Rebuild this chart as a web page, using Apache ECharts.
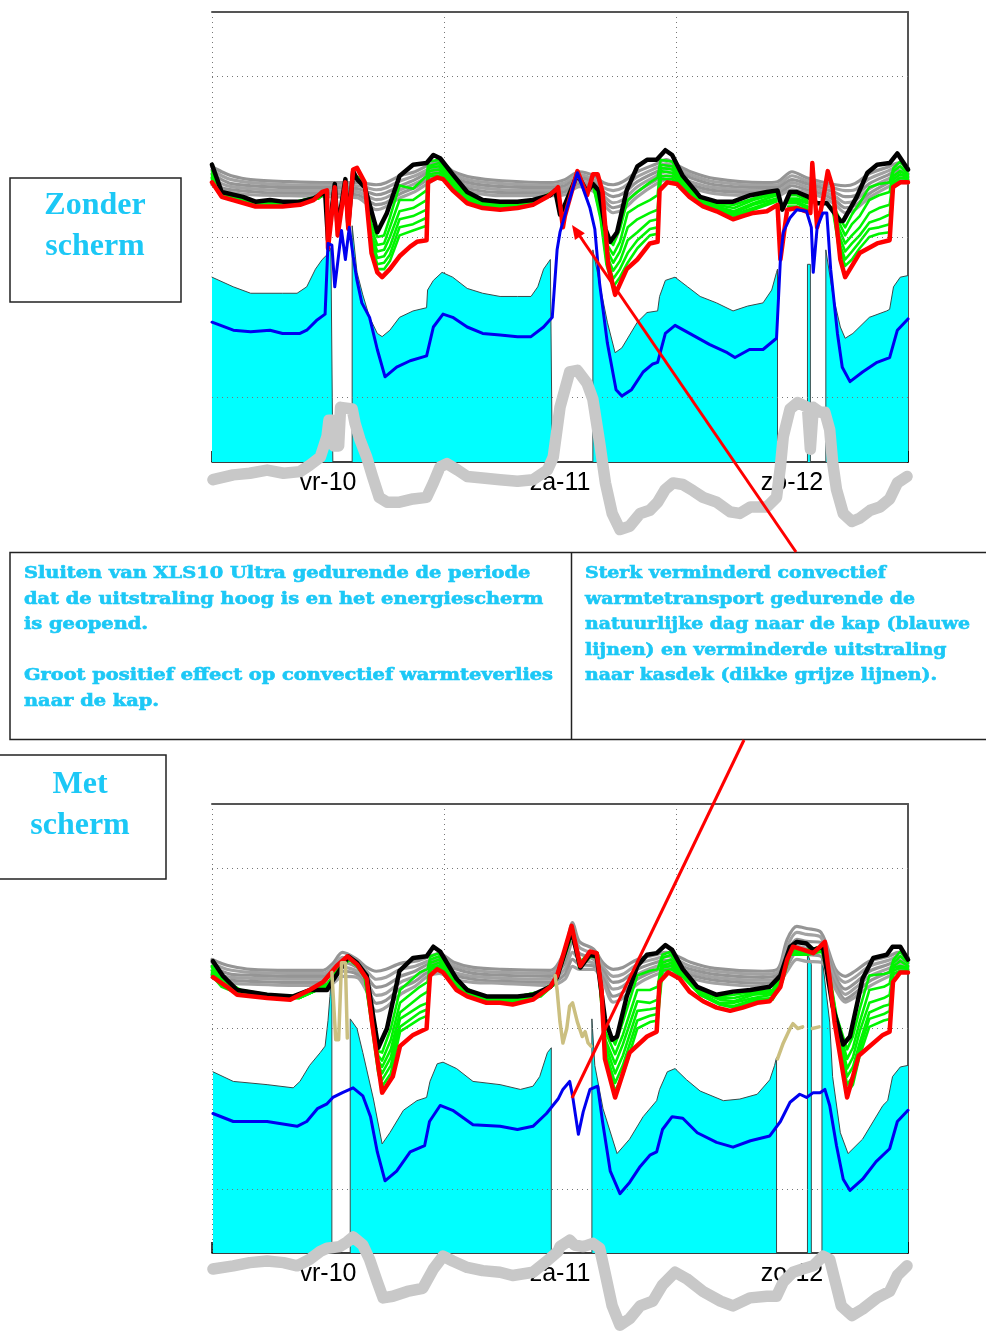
<!DOCTYPE html>
<html>
<head>
<meta charset="utf-8">
<script src="https://cdn.jsdelivr.net/npm/echarts@6/dist/echarts.min.js"></script>
<style>
  html, body { margin: 0; padding: 0; background: #fff; }
  #chart { width: 986px; height: 1338px; }
</style>
</head>
<body>
<div id="chart"></div>
<script>
// Time axis: hours 0..72, day labels sit at noon of each day
const dayLabels = ['vr-10', 'za-11', 'zo-12'];
const gridValues = [0, 10, 20];

// ---------- Top panel: zonder scherm ----------
const topCyan = [[0,7.5],[2.2,6.9],[4,6.5],[6,6.5],[7.3,6.5],[8.8,6.5],[9.8,6.9],[10.7,8.0],[11.4,8.6],[11.9,8.9],[12.3,9.3],[12.5,9.3],[12.5,-4],[13.5,null],
  [14.5,-4],[14.5,10.7],[15.0,7.8],[15.6,6.4],[16.3,5.0],[17.1,4.0],[17.6,3.8],[18.4,4.2],[19.4,5.0],[20.8,5.4],[22.2,5.6],[22.3,6.7],[22.9,7.3],[23.8,7.8],[24.9,7.5],[26.4,6.8],[28.0,6.5],[29.8,6.3],[31.6,6.3],[33.0,6.3],[33.7,6.9],[34.3,8.0],[35.0,8.6],[35.2,8.7],[35.2,-4],[37,null],
  [39.4,-4],[39.4,9.2],[40.1,7.1],[40.9,4.7],[41.7,2.8],[42.4,3.1],[44.0,4.7],[45.0,5.3],[46.1,5.4],[46.3,6.3],[46.9,7.3],[47.9,7.5],[49.2,6.9],[50.5,6.3],[52.2,5.9],[53.9,5.4],[55.4,5.7],[57.0,5.9],[57.9,6.7],[58.4,7.8],[58.5,8.0],[58.5,-4],[60,null],
  [61.6,-4],[61.6,8.3],[61.9,8.3],[61.9,-4],[62.5,null],
  [63.5,-4],[63.5,9.2],[64.2,6.5],[65.0,4.4],[65.5,3.7],[66.3,4.0],[68.0,5.0],[69.8,5.4],[70.1,5.5],[70.5,6.9],[71.2,7.5],[72,7.6]];

const topBlue = [[0,4.7],[2.2,4.2],[4.0,4.1],[6.0,4.2],[7.3,4.0],[9.1,4.0],[9.8,4.2],[10.8,4.8],[11.7,5.2],[12.0,9.6],[12.4,9.5],[12.7,6.9],[13.4,10.4],[13.8,8.6],[14.2,10.6],[14.6,8.8],[15.0,7.3],[15.5,5.9],[16.3,5.0],[17.1,3.0],[17.9,1.3],[19.1,1.9],[20.5,2.3],[22.2,2.6],[22.9,4.4],[23.9,5.2],[24.9,5.0],[26.4,4.4],[28.0,4.0],[29.8,3.9],[31.6,3.8],[33.0,3.8],[34.3,4.4],[35.2,5.0],[35.7,9.2],[36.0,10.3],[37.8,14.0],[39.1,11.8],[39.6,10.5],[40.1,7.1],[40.9,3.4],[41.8,0.5],[42.4,0.1],[43.4,0.5],[44.6,1.6],[45.6,2.1],[46.1,2.2],[46.9,4.0],[47.9,4.5],[49.4,4.0],[51.5,3.3],[53.3,2.8],[54.1,2.5],[55.6,3.0],[57.0,3.0],[58.4,3.7],[58.8,8.6],[59.1,10.3],[59.8,11.2],[60.5,11.7],[61.5,11.6],[62.0,10.6],[62.2,7.8],[62.6,10.6],[63.2,11.5],[63.6,11.5],[64.0,8.0],[64.7,4.0],[65.2,1.9],[66.0,1.0],[67.3,1.6],[68.8,2.2],[70.1,2.5],[70.9,4.2],[72,4.9]];

const topBlack = [[0,14.5],[1,12.8],[3.2,12.5],[4.5,12.2],[6,12.3],[7.3,12.2],[9.1,12.2],[10.5,12.4],[11.7,12.8],[12.0,9.8],[12.7,13.3],[13.0,10.5],[13.8,13.6],[14.1,10.8],[14.6,14.1],[15.0,13.6],[15.8,13.1],[17.1,10.3],[18.1,11.5],[19.4,13.8],[20.8,14.5],[22.2,14.6],[22.9,15.1],[23.6,14.9],[24.9,13.9],[26.4,12.8],[28,12.3],[29.8,12.2],[31.6,12.2],[33.2,12.3],[35,12.6],[35.5,12.9],[36.0,11.4],[36.5,12.0],[37.8,13.9],[38.8,12.8],[39.4,13.3],[40.0,12.9],[40.7,10.5],[41.2,9.7],[41.9,10.3],[42.9,12.9],[44,14.4],[45,14.8],[46,14.8],[46.9,15.4],[47.6,15.1],[48.7,13.8],[50.5,12.5],[52.2,12.2],[53.9,12.2],[55.7,12.6],[57.4,12.8],[58.5,12.9],[59.0,11.7],[59.8,12.8],[60.5,12.8],[61.7,12.5],[62.6,12.1],[63.6,12.1],[65.0,11.0],[65.3,11.0],[66.7,12.5],[67.8,14.0],[68.8,14.5],[70.1,14.6],[70.9,15.2],[72,14.2]];

const topRed = [[0,13.4],[1,12.5],[4.5,11.9],[7.3,11.9],[9.1,12.0],[10.5,12.3],[11.4,12.8],[11.9,12.9],[12.0,9.3],[12.7,13.1],[13.0,10.1],[13.8,13.4],[14.1,10.5],[14.6,14.2],[15.0,14.3],[15.8,13.4],[16.5,9.0],[17.1,7.8],[17.6,7.5],[18.4,8.0],[19.4,8.8],[20.5,9.4],[21.2,9.7],[22.2,9.8],[22.35,13.4],[23.3,13.7],[23.9,13.6],[24.9,12.9],[26.4,12.1],[28.0,11.8],[29.8,11.7],[31.6,11.8],[33.2,12.0],[34.7,12.5],[35.5,12.9],[35.8,13.1],[36.3,10.6],[36.5,11.3],[37.8,14.1],[38.8,12.6],[39.4,13.9],[39.9,13.9],[40.4,12.8],[41.0,8.2],[41.7,6.4],[42.9,8.0],[44.0,8.6],[45.3,9.6],[46.1,9.7],[46.3,12.9],[47.1,13.4],[48.1,13.3],[49.4,12.5],[50.8,11.9],[52.2,11.6],[53.9,11.1],[54.9,11.3],[56.0,11.5],[57.4,11.6],[58.5,12.0],[58.8,8.6],[59.5,11.7],[60.5,11.8],[61.9,11.5],[62.1,14.6],[62.6,10.6],[63.2,12.3],[63.7,14.1],[64.2,13.1],[65.0,8.6],[65.5,7.5],[67.0,9.0],[68.8,9.6],[70.1,9.8],[70.45,13.1],[71.2,13.4],[72,13.4]];

// thick light-grey line (kasdek)
const topRoof = [[0.1,-5.1],[2.2,-4.8],[3.9,-4.7],[5.7,-4.5],[7.4,-4.7],[9.1,-4.6],[10.1,-4.2],[11.2,-3.7],[11.9,-2.4],[12.1,-1.4],[12.5,-1.4],[12.6,-3.0],[13.1,-3.0],[13.3,-0.6],[14.5,-0.7],[14.8,-1.6],[15.3,-2.6],[16.0,-3.7],[16.6,-4.9],[17.3,-6.2],[18.1,-6.5],[19.4,-6.5],[20.8,-6.3],[22.2,-6.2],[22.9,-5.3],[23.6,-4.3],[24.3,-4.1],[25.4,-4.5],[26.4,-4.9],[28.0,-5.0],[29.8,-5.1],[31.6,-5.2],[33.2,-5.1],[34.7,-4.5],[35.3,-3.7],[36.0,-0.6],[37.0,1.6],[37.8,1.7],[38.8,0.9],[39.4,-0.1],[40.1,-2.8],[40.7,-5.3],[41.4,-7.2],[42.2,-8.2],[43.2,-8.0],[44.3,-7.2],[45.3,-7.0],[46.1,-6.5],[46.9,-5.7],[47.7,-5.3],[48.7,-5.4],[49.8,-5.8],[50.8,-6.2],[52.2,-6.5],[53.6,-7.1],[54.6,-7.2],[55.7,-6.8],[57.4,-6.8],[58.4,-6.2],[58.8,-4.3],[59.1,-2.4],[59.8,-0.7],[60.6,-0.3],[61.6,-0.6],[61.9,-3.2],[62.2,-0.6],[62.9,-0.9],[63.4,-0.9],[63.9,-2.0],[64.2,-4.0],[64.6,-5.7],[65.3,-7.2],[66.2,-7.7],[67.0,-7.5],[68.1,-7.0],[69.1,-6.8],[70.1,-6.3],[70.9,-5.3],[71.9,-4.9]];

const topGrayHours = [0,1,2,4,8,12,15,16,17,18,19.5,21,22.3,23.5,25,27,30,35,36.5,38,39.5,40.5,41.5,42.5,44,46,47,48,49.5,52,57,58.5,60,61.5,63,64.5,65.5,66.5,68,70,71,72];
const topGrayRows = [
  [14.37,14.19,13.94,13.69,13.44,13.25],[14.06,13.81,13.57,13.32,13.07,12.88],[13.81,13.57,13.32,13.13,12.94,12.76],[13.57,13.38,13.19,13.01,12.82,12.63],
  [13.44,13.25,13.07,12.88,12.70,12.57],[13.38,13.22,13.07,12.88,12.70,12.51],[13.38,13.19,13.01,12.82,12.63,12.45],[13.32,13.07,12.82,12.57,12.32,12.07],
  [13.25,12.94,12.63,12.32,12.01,11.70],[13.38,13.07,12.76,12.45,12.13,11.89],[13.81,13.50,13.19,12.94,12.70,12.45],[14.06,13.81,13.57,13.32,13.07,12.82],
  [14.44,14.19,14.00,13.75,13.57,13.32],[14.69,14.50,14.31,14.13,13.88,13.69],[14.06,13.88,13.69,13.50,13.32,13.13],[13.69,13.50,13.32,13.13,12.94,12.76],
  [13.50,13.32,13.13,12.94,12.76,12.57],[13.38,13.22,13.07,12.88,12.73,12.57],[13.57,13.38,13.19,13.01,12.82,12.63],[14.06,13.88,13.69,13.50,13.32,13.13],
  [13.81,13.57,13.38,13.19,13.01,12.82],[13.38,13.07,12.82,12.57,12.32,12.07],[13.25,12.88,12.51,12.13,11.82,11.51],[13.44,13.07,12.70,12.32,12.01,11.70],
  [14.06,13.75,13.44,13.13,12.82,12.51],[14.56,14.31,14.06,13.81,13.57,13.32],[14.81,14.56,14.31,14.06,13.81,13.57],[14.50,14.31,14.13,13.88,13.69,13.44],
  [14.06,13.88,13.69,13.44,13.25,13.07],[13.63,13.44,13.25,13.07,12.88,12.70],[13.38,13.22,13.07,12.88,12.73,12.57],[13.44,13.25,13.07,12.88,12.70,12.57],
  [14.06,13.81,13.57,13.38,13.19,12.94],[13.69,13.50,13.32,13.13,12.94,12.76],[13.44,13.25,13.07,12.88,12.70,12.51],[13.25,13.01,12.76,12.51,12.26,12.01],
  [13.19,12.88,12.51,12.13,11.82,11.51],[13.32,12.94,12.57,12.26,11.95,11.70],[13.94,13.63,13.32,13.01,12.70,12.45],[14.37,14.13,13.88,13.63,13.38,13.13],
  [14.62,14.37,14.13,13.88,13.63,13.38],[14.31,14.13,13.94,13.75,13.57,13.38]];

const topGreenHours = [0,1,3,5,8,11,11.8,13,14.6,15.3,15.8,16.5,17.1,17.8,18.4,19.4,20.8,22.2,22.4,23.5,24.9,26.4,28,31,34,35.6,37.5,39.5,40.2,40.8,41.5,42.2,43,44,45.3,46.1,46.4,47.6,48.7,50.5,52.2,54,56,58.4,59,59.6,60.5,61.6,63,64.3,64.8,65.5,66.2,67,68,69,70.1,70.5,71.2,72];
const topGreenRows = [
  [14.1,13.9,13.8,13.7,13.6,13.6],[12.8,12.7,12.7,12.6,12.6,12.6],[12.4,12.3,12.3,12.3,12.3,12.2],[12.1,12.1,12.1,12.0,12.0,12.0],
  [12.1,12.1,12.1,12.1,12.0,12.0],[12.5,12.5,12.5,12.4,12.4,12.4],[12.9,12.9,12.9,12.8,12.8,12.8],null,
  [13.8,13.8,13.8,13.8,13.7,13.7],[13.7,13.7,13.6,13.6,13.6,13.6],[13.2,13.2,13.1,13.1,13.1,13.1],[10.8,10.5,10.1,9.8,9.5,9.2],
  [10.0,9.5,9.1,8.7,8.3,8.0],[10.1,9.6,9.2,8.8,8.4,8.0],[11.2,10.6,10.0,9.4,8.9,8.5],[13.2,12.3,11.6,11.1,10.6,10.1],
  [13.0,12.3,11.8,11.3,10.8,10.4],[13.8,12.9,12.3,11.7,11.2,10.7],[14.7,14.4,14.3,14.1,13.9,13.8],[14.8,14.6,14.4,14.2,14.0,13.8],
  [13.7,13.6,13.4,13.3,13.2,13.1],[12.7,12.6,12.5,12.4,12.3,12.3],[12.2,12.1,12.1,12.0,11.9,11.9],[12.1,12.0,11.9,11.9,11.8,11.8],
  [12.4,12.4,12.4,12.4,12.3,12.3],[12.9,12.9,12.9,12.9,12.8,12.8],null,
  [13.3,13.3,13.2,13.1,13.1,13.0],[12.3,12.0,11.8,11.5,11.3,11.1],[10.0,9.6,9.3,8.9,8.6,8.3],[9.5,8.9,8.4,7.9,7.4,6.9],
  [10.5,9.7,9.1,8.5,8.0,7.5],[12.3,11.5,10.6,9.8,9.0,8.4],[12.8,11.9,11.1,10.3,9.8,9.3],[13.4,12.3,11.5,11.0,10.5,10.1],
  [13.7,12.6,11.7,11.1,10.6,10.2],[14.8,14.5,14.3,14.1,13.8,13.6],[14.7,14.4,14.2,14.0,13.8,13.6],[13.6,13.5,13.4,13.3,13.2,13.1],
  [12.4,12.3,12.2,12.1,12.1,12.0],[12.1,12.0,11.9,11.8,11.8,11.7],[12.0,11.8,11.6,11.5,11.4,11.3],[12.4,12.3,12.1,12.0,11.8,11.7],
  [12.8,12.7,12.6,12.4,12.3,12.2],null,
  [12.6,12.4,12.3,12.2,12.1,11.9],[12.6,12.4,12.3,12.2,12.1,11.9],[12.3,12.2,12.1,11.9,11.8,11.7],null,
  [11.9,11.9,11.8,11.6,11.5,11.4],[11.3,11.0,10.6,10.2,9.8,9.5],[10.6,10.1,9.6,9.1,8.6,8.2],[11.4,10.8,10.1,9.6,9.1,8.6],
  [12.1,11.3,10.6,10.1,9.7,9.3],[13.1,12.3,11.5,10.9,10.5,10.0],[13.3,12.6,11.8,11.1,10.6,10.2],[13.4,12.8,12.0,11.4,10.8,10.3],
  [14.3,14.1,13.8,13.6,13.4,13.3],[14.7,14.4,14.1,13.9,13.7,13.5],[14.1,13.9,13.8,13.7,13.6,13.5]];

// ---------- Bottom panel: met scherm ----------
const botCyan = [[0.1,7.3],[2.2,6.7],[5.7,6.5],[8.4,6.3],[9.1,6.7],[10.1,7.7],[11.2,8.5],[11.7,8.9],[12.0,10.5],[12.2,12.0],[12.4,13.6],[12.4,-4],[13,null],
  [14.3,-4],[14.3,10.6],[15.0,10.0],[15.6,8.5],[16.7,5.6],[17.6,2.8],[18.4,3.5],[19.8,4.9],[21.2,5.5],[22.2,5.7],[22.55,6.7],[23.3,7.8],[23.9,7.9],[25.3,7.5],[27.0,6.7],[29.8,6.5],[31.9,6.2],[33.2,6.4],[33.9,7.0],[34.7,8.5],[35.1,8.8],[35.1,-4],[37,null],
  [39.3,-4],[39.3,10.6],[39.6,7.7],[40.45,5.0],[41.9,2.2],[43.2,3.1],[44.6,4.5],[46.0,5.5],[46.3,6.2],[47.1,7.3],[47.9,7.5],[49.1,6.8],[50.5,6.1],[52.9,5.5],[54.6,5.6],[56.4,5.9],[57.7,6.8],[58.2,7.7],[58.4,8.2],[58.4,-4],[60,null],
  [61.6,-4],[61.6,14.7],[62.0,14.0],[62.0,-4],[62.5,null],
  [63.1,-4],[63.1,14.5],[63.9,10.4],[64.2,7.0],[65.0,3.5],[65.8,2.2],[67.3,3.1],[69.4,5.2],[69.9,5.5],[70.4,7.0],[71.2,7.6],[72,7.7]];

const botBlue = [[0.1,4.7],[2.2,4.2],[5.7,4.2],[8.8,3.9],[9.8,4.2],[10.9,5.0],[11.9,5.3],[12.5,5.7],[13.5,6.0],[14.6,6.3],[15.6,5.8],[16.4,4.5],[17.1,2.3],[17.9,0.5],[19.1,1.1],[20.5,2.3],[22.0,2.7],[22.5,4.2],[23.6,5.2],[24.9,4.9],[27.0,4.0],[29.8,3.9],[31.6,3.7],[33.2,3.9],[34.6,4.7],[35.8,5.6],[36.3,6.2],[37.0,6.7],[37.3,5.8],[37.9,3.4],[38.4,4.8],[39.1,6.2],[39.9,6.4],[40.4,4.2],[41.2,1.1],[42.2,-0.3],[43.2,0.4],[44.3,1.4],[45.3,2.1],[46.0,2.3],[46.6,3.7],[47.6,4.5],[48.7,4.4],[50.2,3.5],[52.2,2.9],[53.9,2.6],[55.7,3.0],[57.7,3.3],[58.8,4.2],[59.8,5.4],[60.8,5.9],[61.5,5.7],[62.2,6.0],[62.9,6.0],[63.4,6.2],[63.9,5.2],[64.6,2.7],[65.3,0.6],[66.0,-0.1],[67.3,0.6],[68.7,1.7],[70.1,2.5],[70.9,4.2],[72,4.9]];

const botBlack = [[0.1,14.2],[1.1,13.3],[2.6,12.4],[5.7,12.1],[8.4,12.0],[10.1,12.4],[11.9,12.4],[12.5,13.0],[13.5,13.9],[14.1,14.5],[15.0,14.1],[16.0,13.3],[17.2,8.8],[18.1,10.0],[19.4,13.6],[20.8,14.4],[22.2,14.5],[22.9,15.1],[23.6,14.8],[25.3,13.1],[26.4,12.4],[28.4,12.0],[31.6,12.0],[33.2,12.1],[35.0,12.6],[35.7,13.2],[37.2,16.1],[38.1,13.8],[39.1,14.6],[39.8,14.5],[40.65,10.6],[41.4,9.3],[41.9,9.5],[42.9,12.0],[44.0,13.9],[45.0,14.6],[46.0,14.7],[46.9,15.2],[47.6,14.9],[48.7,13.7],[50.2,12.6],[52.2,12.1],[53.9,12.3],[55.7,12.4],[57.7,12.6],[58.8,13.3],[59.8,15.1],[60.5,15.4],[61.5,15.3],[62.2,14.9],[63.2,15.1],[64.2,11.4],[65.3,9.0],[66.0,9.5],[67.3,13.1],[68.4,14.4],[69.8,14.6],[70.4,15.1],[71.2,15.1],[72,14.3]];

const botRed = [[0.1,13.2],[1.55,12.6],[2.6,12.1],[5.7,11.9],[8.1,11.8],[9.1,12.1],[10.1,12.4],[11.5,12.9],[12.9,13.9],[14.0,14.5],[15.0,14.0],[16.0,13.1],[16.55,10.4],[17.1,8.1],[17.6,6.0],[18.7,7.0],[19.45,8.9],[20.8,9.6],[22.2,10.0],[22.55,13.3],[23.3,13.7],[23.9,13.5],[25.3,12.4],[26.4,12.0],[28.4,11.6],[29.8,11.6],[31.1,11.5],[33.2,11.8],[35.0,12.6],[35.7,13.3],[37.2,16.4],[38.1,13.9],[39.1,14.8],[39.8,14.7],[40.3,12.4],[40.65,8.1],[41.7,5.7],[43.2,8.5],[45.0,9.5],[46.0,9.8],[46.3,12.9],[47.2,13.5],[48.4,13.1],[49.4,12.3],[50.8,11.7],[52.2,11.3],[53.6,11.1],[54.9,11.3],[56.4,11.6],[57.7,11.7],[58.8,12.6],[59.5,14.3],[60.1,15.1],[61.2,14.9],[62.2,14.7],[62.9,15.1],[63.4,15.4],[63.9,13.1],[64.4,10.4],[65.7,5.7],[66.9,8.3],[69.4,9.6],[70.1,9.8],[70.45,12.9],[71.2,13.5],[72,13.5]];

// screen temperature while XLS10 Ultra is closed (khaki)
const botScreen = [[12.4,13.5],[12.8,9.3],[13.1,9.3],[13.4,14.1],[13.8,14.1],[14.0,9.4],[14.2,null],
  [35.5,13.3],[35.7,12.4],[36.0,10.4],[36.3,9.1],[36.7,10.0],[37.0,11.4],[37.3,11.6],[37.8,10.4],[38.3,9.5],[38.6,9.8],[38.9,9.1],[39.2,8.9],[39.5,null],
  [58.5,8.1],[59.1,9.1],[59.8,10.0],[60.1,10.3],[60.6,10.0],[61.1,10.1],[61.5,null],[62.1,10.0],[62.8,10.1]];

const botRoof = [[0.1,-5.0],[2.2,-4.8],[3.9,-4.6],[5.7,-4.5],[7.4,-4.6],[8.8,-4.8],[10.1,-4.4],[11.2,-3.9],[11.9,-3.7],[13.2,-3.6],[14.0,-3.3],[14.6,-3.0],[15.6,-3.5],[16.3,-4.4],[17.1,-5.8],[17.7,-6.8],[18.7,-6.7],[20.2,-6.4],[21.8,-6.2],[22.9,-5.0],[23.9,-4.2],[24.9,-4.5],[26.4,-4.9],[28.0,-5.1],[29.8,-5.2],[31.1,-5.4],[33.2,-5.2],[34.65,-4.5],[35.8,-3.9],[36.0,-3.6],[37.0,-3.2],[37.5,-3.5],[38.4,-3.6],[39.4,-3.4],[40.1,-3.7],[40.65,-5.2],[41.4,-7.3],[42.2,-8.5],[43.2,-8.1],[44.3,-7.3],[45.6,-7.0],[46.6,-6.0],[47.9,-5.2],[49.1,-5.6],[50.8,-6.4],[52.6,-7.0],[53.9,-7.3],[55.65,-6.8],[57.4,-6.7],[58.4,-6.7],[59.1,-5.8],[60.1,-5.2],[61.1,-5.0],[62.2,-4.8],[63.2,-4.2],[63.9,-4.4],[64.4,-5.6],[65.1,-7.3],[66.2,-7.9],[67.3,-7.5],[68.8,-6.8],[70.1,-6.4],[70.9,-5.4],[71.9,-4.8]];

const botGrayHours = [0,1,2,4,8,11.5,12.5,13.5,15,16,17,18,19.5,21,22.3,23.5,25,27,30,35,36.5,37.3,38,39.5,40.5,41.5,42.5,44,46,47,48,49.5,52,57,58.5,59.5,60.5,61.5,63,64.5,65.5,66.5,68,70,71,72];
const botGrayRows = [
  [14.31,14.13,13.88,13.63,13.38,13.19],[14.06,13.81,13.57,13.32,13.07,12.88],[13.88,13.63,13.38,13.19,13.01,12.82],[13.69,13.50,13.32,13.13,12.94,12.76],
  [13.63,13.44,13.25,13.07,12.88,12.69],[13.63,13.44,13.25,13.07,12.88,12.69],[14.06,13.81,13.57,13.32,13.07,12.82],[14.75,14.44,14.13,13.81,13.57,13.25],
  [14.31,14.06,13.81,13.57,13.38,13.19],[13.81,13.57,13.25,12.94,12.63,12.32],[13.57,13.07,12.57,12.07,11.57,11.08],[13.69,13.19,12.69,12.20,11.76,11.33],
  [14.06,13.69,13.25,12.88,12.51,12.13],[14.19,13.88,13.57,13.25,12.94,12.63],[14.44,14.19,14.00,13.75,13.50,13.25],[14.69,14.44,14.19,13.94,13.69,13.44],
  [14.13,13.94,13.75,13.50,13.32,13.07],[13.81,13.63,13.44,13.25,13.07,12.88],[13.69,13.50,13.32,13.13,12.94,12.82],[13.63,13.44,13.25,13.07,12.88,12.69],
  [14.87,14.44,14.06,13.69,13.38,13.07],[16.61,15.99,15.37,14.75,14.31,13.88],[15.43,15.06,14.69,14.31,14.00,13.69],[14.93,14.62,14.31,14.06,13.88,13.69],
  [14.06,13.81,13.57,13.32,13.07,12.82],[13.69,13.25,12.88,12.45,12.01,11.64],[13.81,13.38,13.01,12.63,12.26,11.89],[14.31,14.00,13.69,13.38,13.07,12.76],
  [14.62,14.37,14.13,13.88,13.63,13.38],[14.75,14.50,14.25,14.00,13.75,13.50],[14.56,14.31,14.06,13.81,13.63,13.38],[14.13,13.88,13.69,13.50,13.32,13.13],
  [13.75,13.57,13.38,13.19,13.01,12.82],[13.57,13.38,13.19,13.01,12.82,12.63],[13.69,13.50,13.32,13.13,12.94,12.76],[15.56,15.12,14.69,14.25,13.88,13.57],
  [16.37,15.99,15.56,15.12,14.75,14.31],[16.24,15.87,15.43,15.00,14.62,14.19],[15.99,15.68,15.37,14.93,14.50,14.13],[13.69,13.44,13.19,12.94,12.69,12.45],
  [13.25,12.88,12.45,12.13,11.82,11.64],[13.57,13.19,12.82,12.51,12.20,11.95],[14.19,13.88,13.57,13.25,12.94,12.63],[14.50,14.25,14.00,13.75,13.50,13.25],
  [14.75,14.50,14.25,14.00,13.75,13.50],[14.44,14.25,14.06,13.88,13.69,13.50]];

const botGreenHours = [0,1,3,6,9,10.5,12,13.5,14.2,15,15.8,16.5,17.2,17.6,18.5,19.45,21.5,22.3,22.6,23.5,25.3,28,31,34,35.5,37.3,38,39.2,39.9,40.7,41.7,42.5,44,45.3,46.1,46.6,47.5,48.7,50.5,52.5,54,56,58,59,59.8,61.6,63.1,63.9,64.6,65.7,66.3,67,68,69.5,70.1,70.5,71.2,72];
const botGreenRows = [
  [13.9,13.8,13.6,13.5,13.4,13.3],[13.1,12.9,12.8,12.8,12.7,12.6],[12.4,12.3,12.3,12.2,12.2,12.1],[12.1,12.1,12.0,12.0,11.9,11.9],
  [12.0,12.0,11.9,11.9,11.9,11.9],[12.4,12.4,12.3,12.3,12.3,12.3],[12.8,12.8,12.8,12.8,12.7,12.7],[14.1,14.1,14.0,14.0,13.9,13.9],
  [14.4,14.4,14.4,14.4,14.3,14.3],[14.1,14.1,14.0,14.0,13.9,13.9],[13.3,13.3,13.3,13.3,13.2,13.2],[11.1,10.9,10.7,10.6,10.5,10.3],
  [8.6,8.3,8.0,7.7,7.4,7.2],[8.5,8.0,7.6,7.2,6.8,6.4],[10.0,9.3,8.7,8.2,7.7,7.2],[12.4,11.6,11.0,10.6,10.1,9.8],
  [13.5,12.6,12.0,11.4,11.0,10.6],[13.7,12.9,12.3,11.6,11.2,10.8],[14.5,14.3,14.1,13.9,13.8,13.7],[14.7,14.5,14.3,14.1,13.9,13.8],
  [12.9,12.8,12.8,12.7,12.6,12.6],[11.9,11.9,11.8,11.8,11.7,11.7],[11.9,11.9,11.8,11.8,11.7,11.6],[12.3,12.3,12.2,12.1,12.1,12.0],
  [12.9,12.9,12.9,12.9,12.8,12.8],[16.3,16.2,16.2,16.1,16.0,16.0],[14.1,14.0,13.9,13.9,13.8,13.8],[14.8,14.7,14.7,14.6,14.6,14.5],
  [14.7,14.6,14.6,14.5,14.4,14.4],[10.2,9.8,9.3,9.0,8.6,8.3],[9.0,8.4,7.8,7.2,6.6,6.1],[10.4,9.6,9.0,8.3,7.7,7.1],
  [13.3,12.4,11.7,11.1,10.5,10.0],[13.6,12.4,11.6,11.2,10.8,10.4],[13.7,12.6,11.8,11.3,10.9,10.5],[14.6,14.4,14.1,13.9,13.8,13.6],
  [14.8,14.6,14.3,14.1,13.9,13.7],[13.6,13.4,13.4,13.3,13.3,13.2],[12.4,12.3,12.3,12.2,12.1,12.1],[12.0,11.9,11.8,11.6,11.5,11.5],
  [12.1,11.9,11.7,11.6,11.4,11.3],[12.3,12.2,12.1,11.9,11.8,11.7],[12.4,12.3,12.2,12.1,11.9,11.8],[13.6,13.4,13.3,13.2,13.1,12.9],
  [14.9,14.9,14.8,14.7,14.7,14.6],[14.9,14.9,14.8,14.7,14.7,14.6],[15.1,15.1,15.0,14.9,14.9,14.8],[13.3,13.2,13.1,13.1,13.0,12.9],
  [10.8,10.6,10.5,10.3,10.1,10.0],[8.7,8.1,7.5,7.0,6.5,6.0],[9.5,8.8,8.2,7.6,7.0,6.5],[11.2,10.4,9.8,9.1,8.7,8.3],
  [13.3,12.4,11.6,11.0,10.6,10.1],[13.4,12.6,11.9,11.4,10.9,10.5],[13.5,12.8,12.1,11.5,11.1,10.6],[14.3,14.1,13.9,13.8,13.6,13.4],
  [14.8,14.5,14.2,13.9,13.8,13.6],[14.2,14.1,13.9,13.8,13.7,13.6]];

// ---------- chart construction ----------
const panels = [
  { cyan: topCyan, blue: topBlue, black: topBlack, red: topRed, roof: topRoof,
    grayHours: topGrayHours, grayRows: topGrayRows, greenHours: topGreenHours, greenRows: topGreenRows },
  { cyan: botCyan, blue: botBlue, black: botBlack, red: botRed, roof: botRoof, screen: botScreen,
    grayHours: botGrayHours, grayRows: botGrayRows, greenHours: botGreenHours, greenRows: botGreenRows }
];

function columns(hours, rows, n) {
  const out = [];
  for (let k = 0; k < n; k++) out.push(hours.map((h, i) => [h, rows[i] === null ? null : rows[i][k]]));
  return out;
}

function line(p, data, color, width, z, extra) {
  return Object.assign({
    type: 'line', xAxisIndex: p * 3, yAxisIndex: p * 2, data: data,
    symbol: 'none', showSymbol: false, connectNulls: false, silent: true, animation: false,
    lineStyle: { color: color, width: width, join: 'round', cap: 'round' }, z: z
  }, extra || {});
}

const series = [];
panels.forEach((d, p) => {
  series.push({
    type: 'line', xAxisIndex: p * 3, yAxisIndex: p * 2, data: [], symbol: 'none', silent: true, z: 1,
    markLine: { silent: true, symbol: ['none', 'none'], animation: false, label: { show: false },
      lineStyle: { type: [1, 4], color: '#777', width: 1 },
      data: gridValues.map(v => ({ yAxis: v })) }
  });
  series.push(line(p, d.cyan, '#3a4a4a', 1, 2, { areaStyle: { color: '#00ffff', opacity: 1, origin: 'start' } }));
  columns(d.grayHours, d.grayRows, 6).forEach((ln, k) =>
    series.push(line(p, ln, k % 2 ? '#a2a2a2' : '#959595', 3.2, 3, { smooth: 0.3 })));
  columns(d.greenHours, d.greenRows, 6).forEach(ln => series.push(line(p, ln, '#00f400', 2.6, 4)));
  series.push(line(p, d.black, '#000000', 4.5, 5));
  series.push(line(p, d.red, '#ff0000', 4.5, 6));
  series.push(line(p, d.blue, '#0000f0', 3, 7));
  if (d.screen) series.push(line(p, d.screen, '#cbbf80', 3.5, 8));
  series.push(line(p, d.roof, '#c8c8c8', 11.5, 9, { clip: false }));
});

const xAxis = [], yAxis = [];
[0, 1].forEach(g => {
  xAxis.push({ gridIndex: g, type: 'value', min: 0, max: 72, interval: 24, position: 'bottom',
    axisLine: { show: true, onZero: false, lineStyle: { color: '#000', width: 1.5 } },
    axisTick: { show: true, inside: true, length: 11, lineStyle: { color: '#000', width: 1.5 } },
    axisLabel: { show: false },
    splitLine: { show: true, lineStyle: { type: [1, 4], color: '#777', width: 1 } } });
  xAxis.push({ gridIndex: g, type: 'value', min: 0, max: 72, interval: 12, position: 'bottom',
    axisLine: { show: false }, axisTick: { show: false }, splitLine: { show: false },
    axisLabel: { show: true, margin: 9, fontSize: 25, color: '#000',
      fontFamily: '"Liberation Sans", Arial, sans-serif',
      formatter: v => (v % 24 === 12 ? dayLabels[(v - 12) / 24] : '') } });
  xAxis.push({ gridIndex: g, type: 'value', min: 0, max: 72, position: 'top',
    axisLine: { show: true, onZero: false, lineStyle: { color: '#555', width: 2 } },
    axisTick: { show: false }, axisLabel: { show: false }, splitLine: { show: false } });
  yAxis.push({ gridIndex: g, type: 'value', min: -4, max: 24,
    axisLine: { show: false }, axisTick: { show: false }, axisLabel: { show: false }, splitLine: { show: false } });
  yAxis.push({ gridIndex: g, type: 'value', min: -4, max: 24, position: 'right',
    axisLine: { show: true, onZero: false, lineStyle: { color: '#555', width: 2 } },
    axisTick: { show: false }, axisLabel: { show: false }, splitLine: { show: false } });
});

// ---------- annotation boxes, table and arrows ----------
const noteColor = '#1cc8f6';
const tableFont = 'bold 16px "DejaVu Serif"';
const leftNote = 'Sluiten van XLS10 Ultra gedurende de periode\ndat de uitstraling hoog is en het energiescherm\nis geopend.\n\nGroot positief effect op convectief warmteverlies\nnaar de kap.';
const rightNote = 'Sterk verminderd convectief\nwarmtetransport gedurende de\nnatuurlijke dag naar de kap (blauwe\nlijnen) en verminderde uitstraling\nnaar kasdek (dikke grijze lijnen).';

function stretchFor(text, font, target) {
  const ctx = document.createElement('canvas').getContext('2d');
  ctx.font = font;
  const w = Math.max.apply(null, text.split('\n').map(s => ctx.measureText(s).width));
  return target / w;
}
const leftScale = stretchFor(leftNote, tableFont, 529);
const rightScale = stretchFor(rightNote, tableFont, 385);

function arrowHead(x1, y1, x2, y2, len, half) {
  const dx = x2 - x1, dy = y2 - y1, L = Math.hypot(dx, dy);
  const ux = dx / L, uy = dy / L;
  const bx = x2 - ux * len, by = y2 - uy * len;
  return [[x2, y2], [bx - uy * half, by + ux * half], [bx + uy * half, by - ux * half]];
}

const noteStyle = { font: tableFont, fill: noteColor, stroke: noteColor, lineWidth: 0.6,
  verticalAlign: 'top', lineHeight: 25.6 };

const graphic = [
  { type: 'rect', z: 100, shape: { x: 10, y: 178, width: 171, height: 124 },
    style: { fill: 'none', stroke: '#222', lineWidth: 1.5 } },
  { type: 'text', z: 101, x: 95, y: 226,
    style: { text: 'Zonder\nscherm', font: 'bold 32px "Liberation Serif"', fill: noteColor,
      align: 'center', verticalAlign: 'middle', lineHeight: 41 } },
  { type: 'rect', z: 100, shape: { x: -2, y: 755, width: 168, height: 124 },
    style: { fill: 'none', stroke: '#222', lineWidth: 1.5 } },
  { type: 'text', z: 101, x: 80, y: 805,
    style: { text: 'Met\nscherm', font: 'bold 32px "Liberation Serif"', fill: noteColor,
      align: 'center', verticalAlign: 'middle', lineHeight: 41 } },
  { type: 'rect', z: 100, shape: { x: 10, y: 552.5, width: 1000, height: 187 },
    style: { fill: '#fff', stroke: '#222', lineWidth: 1.5 } },
  { type: 'line', z: 101, shape: { x1: 571.5, y1: 552.5, x2: 571.5, y2: 739.5 },
    style: { stroke: '#222', lineWidth: 1.5 } },
  { type: 'text', z: 102, x: 24, y: 561, scaleX: leftScale,
    style: Object.assign({ text: leftNote }, noteStyle) },
  { type: 'text', z: 102, x: 585, y: 561, scaleX: rightScale,
    style: Object.assign({ text: rightNote }, noteStyle) },
  { type: 'line', z: 110, shape: { x1: 796, y1: 552, x2: 577, y2: 232 },
    style: { stroke: '#ff0000', lineWidth: 3 } },
  { type: 'polygon', z: 110, shape: { points: arrowHead(796, 552, 572, 225, 14, 6) },
    style: { fill: '#ff0000' } },
  { type: 'line', z: 110, shape: { x1: 744, y1: 740, x2: 572, y2: 1098 },
    style: { stroke: '#ff0000', lineWidth: 3 } }
];

const chart = echarts.init(document.getElementById('chart'), null, { renderer: 'canvas' });
chart.setOption({
  animation: false,
  backgroundColor: '#ffffff',
  grid: [
    { left: 212, top: 12, width: 696, height: 450 },
    { left: 212, top: 804, width: 696, height: 449 }
  ],
  xAxis: xAxis,
  yAxis: yAxis,
  series: series,
  graphic: graphic
});
</script>
</body>
</html>
